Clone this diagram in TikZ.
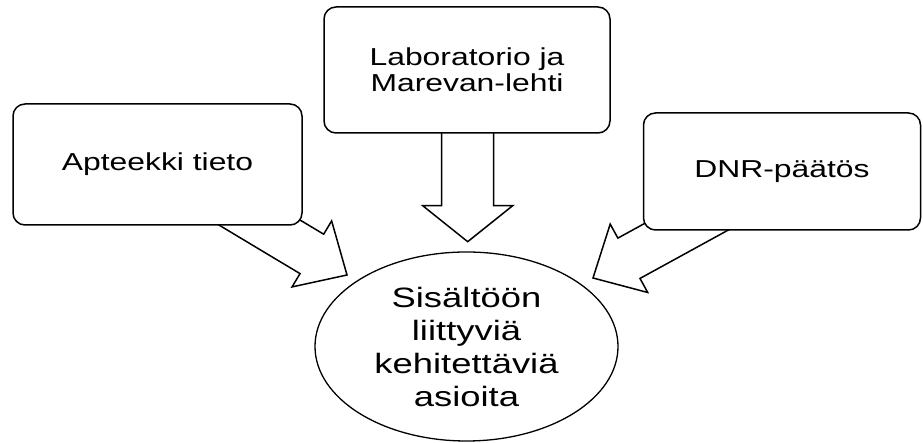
\documentclass[tikz,border=0pt]{standalone}
\usepackage{fontspec}
\setmainfont{Liberation Sans}
\newfontfamily\widefont[FakeStretch=1.3]{Liberation Sans}
\usetikzlibrary{calc,shapes.geometric}
\pgfdeclarelayer{background}
\pgfsetlayers{background,main}
\tikzset{
  infobox/.style={draw,fill=white,line width=1.5pt,rounded corners=12pt,
    align=center,inner sep=0pt,font=\widefont\fontsize{24.5}{26}\selectfont},
  goal/.style={draw,ellipse,fill=white,line width=1.3pt,inner sep=0pt,
    align=center,font=\widefont\fontsize{28}{33}\selectfont},
  fatline/.style={draw,fill=white,line width=1.5pt,line join=miter}
}
% block arrow: tail, tip, half shaft, half head, head length
\newcommand\fatarrow[5]{%
  \path ($(#2)!#5!(#1)$) coordinate (neck);
  \draw[fatline] ($(#1)!#3!90:(#2)$) -- ($(neck)!#3!90:(#2)$)
    -- ($(neck)!#4!90:(#2)$) -- (#2) -- ($(neck)!#4!-90:(#2)$)
    -- ($(neck)!#3!-90:(#2)$) -- ($(#1)!#3!-90:(#2)$) -- cycle;}
\begin{document}
\begin{tikzpicture}[x=1pt,y=1pt]
\useasboundingbox (0,0) rectangle (923,443);
% boxes
\node[infobox,minimum width=289pt,minimum height=121pt] (pharmacy) at (157.5,278.5) {Apteekki tieto};
\node[infobox,minimum width=286pt,minimum height=126pt] (lab) at (467,373) {Laboratorio ja\\Marevan-lehti};
\node[infobox,minimum width=277pt,minimum height=117pt] (dnr) at (782,271.5) {DNR-päätös};
\node[goal,minimum width=303pt,minimum height=189pt] (content) at (466.5,96.5)
  {Sisältöön\\liittyviä\\kehitettäviä\\asioita};
% arrow ends
\coordinate (pharmacy-tip) at (347,168);
\coordinate (pharmacy-tail) at (175.6,270.8);
\coordinate (lab-tip) at (467.7,201.3);
\coordinate (lab-tail) at (467.7,373);
\coordinate (dnr-tip) at (593,165);
\coordinate (dnr-tail) at (768.4,261.2);
\begin{pgfonlayer}{background}
\fatarrow{pharmacy-tail}{pharmacy-tip}{23pt}{38.5pt}{41pt}
\fatarrow{lab-tail}{lab-tip}{26pt}{45pt}{36pt}
\fatarrow{dnr-tail}{dnr-tip}{23pt}{39pt}{41pt}
\end{pgfonlayer}
\end{tikzpicture}
\end{document}
